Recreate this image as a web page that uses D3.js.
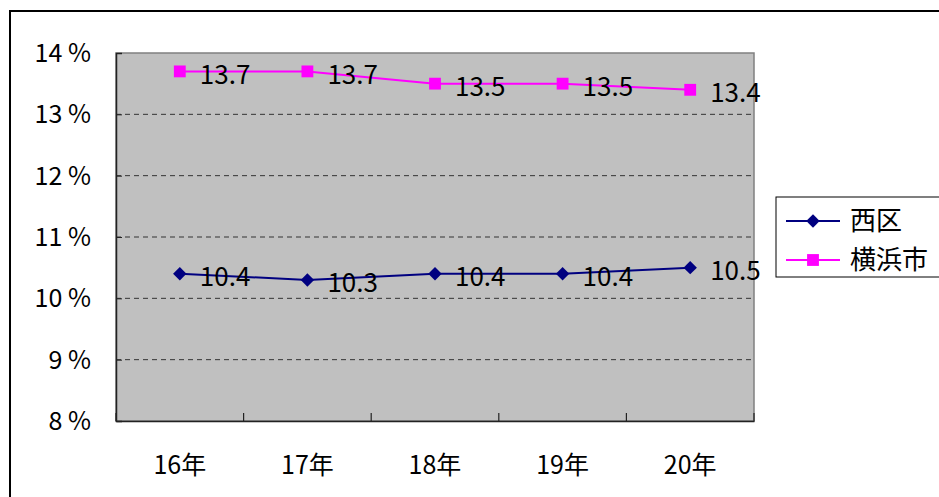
<!DOCTYPE html>
<html>
<head>
<meta charset="utf-8">
<script src="https://cdn.jsdelivr.net/npm/d3@7"></script>
<style>
  body { margin: 0; background: #fff; }
  svg { display: block; }
</style>
</head>
<body>
<div id="chart"></div>
<script>
const years = ["16年", "17年", "18年", "19年", "20年"];
const nishiku = [10.4, 10.3, 10.4, 10.4, 10.5];
const yokohama = [13.7, 13.7, 13.5, 13.5, 13.4];
const yTicks = [8, 9, 10, 11, 12, 13, 14];

// square-ish diamond, excel style
const diamond = {
    draw: function (ctx, size) {
        const r = Math.sqrt(size / 2);
        ctx.moveTo(0, -r);
        ctx.lineTo(r, 0);
        ctx.lineTo(0, r);
        ctx.lineTo(-r, 0);
        ctx.closePath();
    }
};

function init() {
    const w = 939;
    const h = 497;
    const font = "'Noto Sans CJK JP', 'DejaVu Sans', sans-serif";

    const left = 116, right = 754, top = 53, bottom = 421;

    const svg = d3.select("#chart")
        .append("svg")
        .attr("width", w)
        .attr("height", h);

    // outer frame
    svg.append("rect")
        .attr("x", 10).attr("y", 11)
        .attr("width", 940).attr("height", 500)
        .attr("fill", "none")
        .attr("stroke", "#000")
        .attr("stroke-width", 2);

    const x = d3.scaleBand()
        .domain(years)
        .range([left, right]);

    const y = d3.scaleLinear()
        .domain([8, 14])
        .range([bottom, top]);

    // plot background
    svg.append("rect")
        .attr("x", left).attr("y", top)
        .attr("width", right - left).attr("height", bottom - top)
        .attr("fill", "#c0c0c0")
        .attr("stroke", "#808080")
        .attr("stroke-width", 1.5);

    // grid lines
    svg.append("g")
        .selectAll("line")
        .data(yTicks.filter(d => d > 8 && d < 14))
        .enter()
        .append("line")
        .attr("x1", left).attr("x2", right)
        .attr("y1", d => y(d)).attr("y2", d => y(d))
        .attr("stroke", "#333")
        .attr("stroke-dasharray", "5,4");

    // y axis
    const yAxis = svg.append("g")
        .attr("transform", `translate(${left},0)`)
        .call(d3.axisRight(y).tickValues(yTicks).tickSize(6).tickFormat(""));
    yAxis.select(".domain").attr("stroke", "#222").attr("stroke-width", 1.5);
    yAxis.selectAll(".tick line").attr("stroke", "#222");

    svg.append("g")
        .selectAll("text")
        .data(yTicks)
        .enter()
        .append("text")
        .attr("x", 91)
        .attr("y", d => y(d))
        .attr("dy", "0.36em")
        .attr("text-anchor", "end")
        .attr("font-family", font)
        .attr("font-size", 25)
        .text(d => d + " %");

    // x axis
    const xAxis = svg.append("g")
        .attr("transform", `translate(0,${bottom})`)
        .call(d3.axisTop(x).tickSize(0).tickFormat(""));
    xAxis.select(".domain").attr("stroke", "#222").attr("stroke-width", 1.5);

    const edges = years.map(d => x(d)).concat([right]);
    svg.append("g")
        .selectAll("line")
        .data(edges)
        .enter()
        .append("line")
        .attr("x1", d => d).attr("x2", d => d)
        .attr("y1", bottom).attr("y2", bottom - 8)
        .attr("stroke", "#222")
        .attr("stroke-width", 1.2);

    svg.append("g")
        .selectAll("text")
        .data(years)
        .enter()
        .append("text")
        .attr("x", d => x(d) + x.bandwidth() / 2)
        .attr("y", 465)
        .attr("dy", "0.36em")
        .attr("text-anchor", "middle")
        .attr("font-family", font)
        .attr("font-size", 25)
        .text(d => d);

    const cx = d => x(d) + x.bandwidth() / 2;

    const series = [
        { name: "西区", values: nishiku, color: "#000080", shape: diamond, size: 90 },
        { name: "横浜市", values: yokohama, color: "#ff00ff", shape: d3.symbolSquare, size: 140 }
    ];

    const line = d3.line()
        .x((d, i) => cx(years[i]))
        .y(d => y(d));

    series.forEach(function (s) {
        svg.append("path")
            .datum(s.values)
            .attr("d", line)
            .attr("fill", "none")
            .attr("stroke", s.color)
            .attr("stroke-width", 2);

        svg.append("g")
            .selectAll("path")
            .data(s.values)
            .enter()
            .append("path")
            .attr("transform", (d, i) => `translate(${cx(years[i])},${y(d)})`)
            .attr("d", d3.symbol().type(s.shape).size(s.size))
            .attr("fill", s.color);

        svg.append("g")
            .selectAll("text")
            .data(s.values)
            .enter()
            .append("text")
            .attr("x", (d, i) => cx(years[i]) + 20)
            .attr("y", (d, i) => y(d) + 3)
            .attr("dy", "0.36em")
            .attr("font-family", font)
            .attr("font-size", 26)
            .text(d => d.toFixed(1));
    });

    // legend
    const lg = svg.append("g");
    lg.append("rect")
        .attr("x", 776).attr("y", 197)
        .attr("width", 180).attr("height", 80)
        .attr("fill", "#fff")
        .attr("stroke", "#000")
        .attr("stroke-width", 1);

    series.forEach(function (s, i) {
        const ly = 221 + i * 39;
        lg.append("line")
            .attr("x1", 786).attr("x2", 840)
            .attr("y1", ly).attr("y2", ly)
            .attr("stroke", s.color)
            .attr("stroke-width", 2);
        lg.append("path")
            .attr("transform", `translate(813,${ly})`)
            .attr("d", d3.symbol().type(s.shape).size(s.size))
            .attr("fill", s.color);
        lg.append("text")
            .attr("x", 850)
            .attr("y", ly)
            .attr("dy", "0.36em")
            .attr("font-family", font)
            .attr("font-size", 26)
            .text(s.name);
    });
}

window.onload = init;
</script>
</body>
</html>
